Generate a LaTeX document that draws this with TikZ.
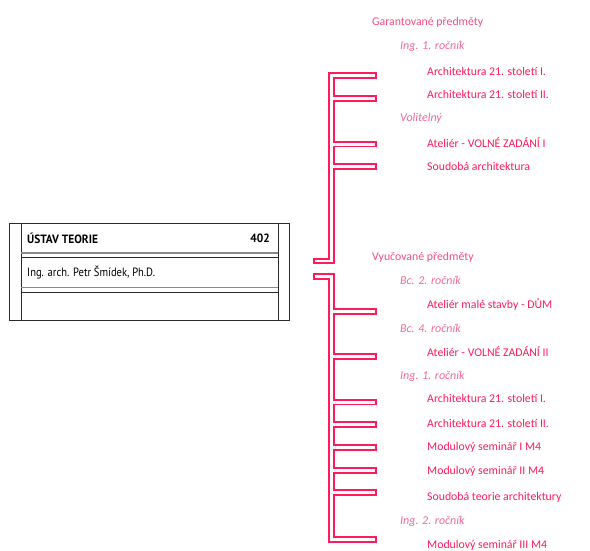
\documentclass[tikz,border=0pt]{standalone}
\usepackage{fontspec}
\setmainfont{Carlito}
\newfontfamily\boxfont[FakeStretch=0.88]{PT Sans}
\newfontfamily\boxfontb[FakeStretch=0.95]{PT Sans Bold}
\definecolor{course}{HTML}{FF1A5A}
\definecolor{headc}{HTML}{F24D7E}
\definecolor{itc}{HTML}{F26A94}
\definecolor{boxline}{HTML}{2A2A2A}
\definecolor{boxgray}{HTML}{8A8A8A}
\tikzset{
  coursetext/.style={anchor=west, inner sep=0pt, text=course, font=\fontsize{11.8}{13}\selectfont},
  headtext/.style={anchor=west, inner sep=0pt, text=headc, font=\fontsize{11.8}{13}\selectfont},
  yeartext/.style={anchor=west, inner sep=0pt, text=itc, font=\fontsize{12}{13}\selectfont\itshape},
  boxtext/.style={inner sep=0pt, text=black, font=\boxfont\fontsize{12}{13}\selectfont},
  boxtextb/.style={inner sep=0pt, text=black, font=\boxfontb\fontsize{12}{13}\selectfont},
  pinkline/.style={draw=course, line width=1.1pt, line join=miter},
  boxstroke/.style={draw=boxline, line width=0.8pt},
}
\begin{document}
\begin{tikzpicture}[x=1pt,y=-1pt]
\useasboundingbox (0,0) rectangle (590,551);
% box
\draw[boxstroke] (9,223) rectangle (289,320);
\draw[boxstroke] (21,223) -- (21,320);
\draw[boxstroke] (278,223) -- (278,320);
\draw[draw=boxgray, line width=1.3pt] (21,253) -- (278,253);
\draw[boxstroke, line width=0.7pt] (21,257.5) -- (278,257.5);
\draw[draw=boxgray, line width=1.3pt] (21,287.5) -- (278,287.5);
\draw[boxstroke, line width=0.7pt] (21,292) -- (278,292);
\node[boxtextb, anchor=west] (ustav) at (27,238) {ÚSTAV TEORIE};
\node[boxtextb, anchor=east] (num) at (270,238) {402};
\node[boxtext, anchor=west] (person) at (27,273) {Ing. arch. Petr Šmídek, Ph.D.};
% brackets
\draw[pinkline] (329,73) -- (376,73) -- (376,78) -- (334,78) -- (334,96) -- (376,96) -- (376,101) -- (334,101)
  -- (334,142) -- (376,142) -- (376,146.5) -- (334,146.5) -- (334,164) -- (376,164) -- (376,169) -- (334,169)
  -- (334,263) -- (314,263) -- (314,259) -- (329,259) -- cycle;
\draw[pinkline] (314,274) -- (334,274) -- (334,309) -- (376,309) -- (376,314) -- (334,314)
  -- (334,354) -- (376,354) -- (376,359) -- (334,359)
  -- (334,400) -- (376,400) -- (376,404.5) -- (334,404.5)
  -- (334,422) -- (376,422) -- (376,427) -- (334,427)
  -- (334,445) -- (376,445) -- (376,450) -- (334,450)
  -- (334,468) -- (376,468) -- (376,473) -- (334,473)
  -- (334,490) -- (376,490) -- (376,495) -- (334,495)
  -- (334,537) -- (376,537) -- (376,542) -- (329,542) -- (329,279) -- (314,279) -- cycle;
% top texts
\node[headtext] (gar) at (372,22) {Garantované předměty};
\node[yeartext] (y1) at (400,46) {Ing. 1. ročník};
\node[coursetext] (c1) at (427,71) {Architektura 21. století I.};
\node[coursetext] (c2) at (427,94.5) {Architektura 21. století II.};
\node[yeartext] (y2) at (400,118.5) {Volitelný};
\node[coursetext] (c3) at (427,142.5) {Ateliér - VOLNÉ ZADÁNÍ I};
\node[coursetext] (c4) at (427,166.5) {Soudobá architektura};
% bottom texts
\node[headtext] (vyu) at (372,257) {Vyučované předměty};
\node[yeartext] (y3) at (400,280.5) {Bc. 2. ročník};
\node[coursetext] (d1) at (427,304) {Ateliér malé stavby - DŮM};
\node[yeartext] (y4) at (400,328) {Bc. 4. ročník};
\node[coursetext] (d2) at (427,352) {Ateliér - VOLNÉ ZADÁNÍ II};
\node[yeartext] (y5) at (400,376) {Ing. 1. ročník};
\node[coursetext] (d3) at (427,398.5) {Architektura 21. století I.};
\node[coursetext] (d4) at (427,423) {Architektura 21. století II.};
\node[coursetext] (d5) at (427,447) {Modulový seminář I M4};
\node[coursetext] (d6) at (427,471) {Modulový seminář II M4};
\node[coursetext] (d7) at (427,497) {Soudobá teorie architektury};
\node[yeartext] (y6) at (400,521) {Ing. 2. ročník};
\node[coursetext] (d8) at (427,545) {Modulový seminář III M4};
\end{tikzpicture}
\end{document}
